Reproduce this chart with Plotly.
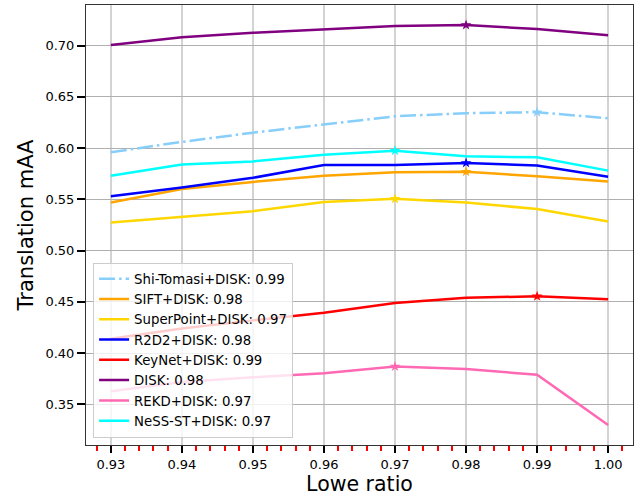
import plotly.graph_objects as go

lowe_ratio = [0.93, 0.94, 0.95, 0.96, 0.97, 0.98, 0.99, 1.00]

shi_tomasi = [0.596, 0.606, 0.615, 0.623, 0.631, 0.634, 0.635, 0.629]
sift = [0.547, 0.560, 0.567, 0.573, 0.5765, 0.577, 0.5725, 0.5675]
superpoint = [0.5275, 0.533, 0.5385, 0.5475, 0.5505, 0.547, 0.5405, 0.5285]
r2d2 = [0.553, 0.5615, 0.571, 0.5835, 0.5835, 0.5855, 0.583, 0.572]
keynet = [0.414, 0.424, 0.432, 0.4395, 0.449, 0.454, 0.4555, 0.4525]
disk = [0.7005, 0.708, 0.7125, 0.716, 0.719, 0.720, 0.716, 0.710]
rekd = [0.363, 0.372, 0.3765, 0.3805, 0.387, 0.3845, 0.379, 0.330]
ness_st = [0.573, 0.584, 0.587, 0.5935, 0.5975, 0.592, 0.591, 0.578]

labels = ["Shi-Tomasi+DISK: 0.99", "SIFT+DISK: 0.98", "SuperPoint+DISK: 0.97",
          "R2D2+DISK: 0.98", "KeyNet+DISK: 0.99", "DISK: 0.98",
          "REKD+DISK: 0.97", "NeSS-ST+DISK: 0.97"]
series = [shi_tomasi, sift, superpoint, r2d2, keynet, disk, rekd, ness_st]
colors = ["#87CEFA", "#FFA500", "#FFD700", "#0000FF", "#FF0000", "#800080", "#FF69B4", "#00FFFF"]
dashes = ["16px,4px,2.5px,4px", "solid", "solid", "solid", "solid", "solid", "solid", "solid"]

FONT = "DejaVu Sans"

fig = go.Figure()
for name, ys, c, d in zip(labels, series, colors, dashes):
    fig.add_trace(go.Scatter(x=lowe_ratio, y=ys, mode="lines", name=name,
                             line=dict(color=c, width=2.5, dash=d)))
for ys, c in zip(series, colors):
    i = max(range(len(ys)), key=lambda k: ys[k])
    fig.add_trace(go.Scatter(x=[lowe_ratio[i]], y=[ys[i]], mode="markers", showlegend=False,
                             marker=dict(symbol="star", size=8, color=c, line=dict(width=0))))

fig.update_layout(
    width=634, height=496,
    margin=dict(l=86, r=1, t=5, b=51, pad=0),
    paper_bgcolor="white", plot_bgcolor="white",
    font=dict(family=FONT, size=13, color="black"),
    showlegend=True,
    legend=dict(x=0.013, y=0.017, xanchor="left", yanchor="bottom",
                bgcolor="rgba(255,255,255,0.8)", bordercolor="#cccccc", borderwidth=1,
                font=dict(family=FONT, size=13.3, color="black"),
                itemwidth=30, tracegroupgap=0),
)
fig.update_xaxes(
    range=[0.9265, 1.0035], tickmode="array", tickvals=lowe_ratio,
    ticktext=[f"{v:.2f}" for v in lowe_ratio],
    ticks="outside", ticklen=7, tickwidth=2, tickcolor="black",
    showgrid=True, gridcolor="#d3d3d3", gridwidth=1.5,
    showline=True, mirror=True, linecolor="#333333", linewidth=1,
    zeroline=False, automargin=False,
    minor=dict(tick0=0.93, dtick=0.002, ticks="outside", ticklen=5, tickwidth=2,
               tickcolor="red", showgrid=False),
    title=dict(text="Lowe ratio", font=dict(family=FONT, size=20.5), standoff=9),
)
fig.update_yaxes(
    range=[0.3105, 0.7395], tickmode="array",
    tickvals=[0.35, 0.40, 0.45, 0.50, 0.55, 0.60, 0.65, 0.70],
    ticktext=["0.35", "0.40", "0.45", "0.50", "0.55", "0.60", "0.65", "0.70"],
    ticks="outside", ticklen=8, tickwidth=2, tickcolor="black",
    showgrid=True, gridcolor="#b0b0b0", gridwidth=1,
    showline=True, mirror=True, linecolor="#333333", linewidth=1,
    zeroline=False, automargin=False,
    title=dict(text="Translation mAA", font=dict(family=FONT, size=21), standoff=6),
)

fig.write_html("out.html")
